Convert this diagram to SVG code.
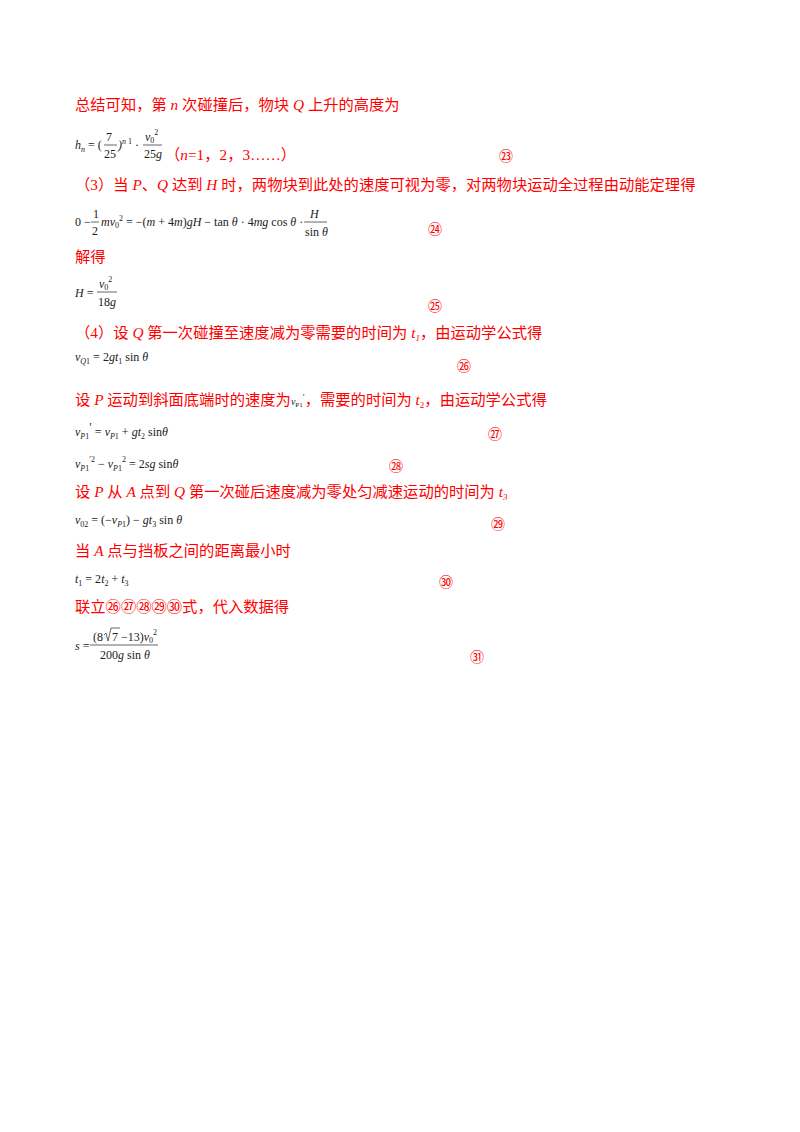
<svg xmlns="http://www.w3.org/2000/svg" width="800" height="1132" viewBox="0 0 800 1132">
<style>
.r{fill:#ff0000;font-family:"Liberation Serif","Noto Sans CJK SC",serif;font-size:15.3px}
.i{font-style:italic}
.m{fill:#222;font-family:"Liberation Serif",serif;font-size:12px}
.s{font-size:8px}
.c{fill:#ff0000;font-family:"Noto Sans CJK SC",sans-serif;font-size:14px}
.ln{stroke:#222;stroke-width:0.7}
</style>
<rect width="800" height="1132" fill="#fff"/>
<g id="text">
<text class="r" x="75" y="110">总结可知，第 <tspan class="i">n</tspan> 次碰撞后，物块 <tspan class="i">Q</tspan> 上升的高度为</text>
<text class="m" x="75" y="149"><tspan class="i">h</tspan><tspan class="s i" dy="3">n</tspan><tspan dy="-3"> = (</tspan></text>
<text class="m" x="106" y="141">7</text><line class="ln" x1="104" y1="145" x2="117" y2="145"/><text class="m" x="104" y="158">25</text>
<text class="m" x="118" y="149"><tspan class="i">)</tspan><tspan class="s" dy="-5"><tspan class="i">n</tspan> 1</tspan><tspan dy="5"> ·</tspan></text>
<text class="m" x="145" y="141"><tspan class="i">v</tspan><tspan class="s" dy="2">0</tspan><tspan class="s" dy="-8">2</tspan></text><line class="ln" x1="143" y1="145" x2="162" y2="145"/><text class="m" x="144" y="158">25<tspan class="i">g</tspan></text>
<text class="r" x="165" y="160">（<tspan class="i">n</tspan>=1，2，3……）</text>
<text class="c" x="499" y="161">㉓</text>
<text class="r" x="75" y="190">（3）当 <tspan class="i">P</tspan>、<tspan class="i">Q</tspan> 达到 <tspan class="i">H</tspan> 时，两物块到此处的速度可视为零，对两物块运动全过程由动能定理得</text>
<text class="m" x="75" y="226">0 −</text><text class="m" x="93" y="218">1</text><line class="ln" x1="91" y1="222" x2="99" y2="222"/><text class="m" x="92" y="235">2</text>
<text class="m" x="101" y="226"><tspan class="i">mv</tspan><tspan class="s" dy="2">0</tspan><tspan class="s" dy="-7">2</tspan><tspan dy="5"> = −(</tspan><tspan class="i">m</tspan> + 4<tspan class="i">m</tspan>)<tspan class="i">gH</tspan> − tan <tspan class="i">θ</tspan> · 4<tspan class="i">mg</tspan> cos <tspan class="i">θ</tspan> ·</text>
<text class="m i" x="310" y="218">H</text><line class="ln" x1="304" y1="222" x2="327" y2="222"/><text class="m" x="305" y="236">sin <tspan class="i">θ</tspan></text>
<text class="c" x="428" y="234">㉔</text>
<text class="r" x="75" y="262">解得</text>
<text class="m" x="75" y="297"><tspan class="i">H</tspan> =</text>
<text class="m" x="99" y="288"><tspan class="i">v</tspan><tspan class="s" dy="2">0</tspan><tspan class="s" dy="-8">2</tspan></text><line class="ln" x1="97" y1="292" x2="117" y2="292"/><text class="m" x="98" y="306">18<tspan class="i">g</tspan></text>
<text class="c" x="428" y="311">㉕</text>
<text class="r" x="75" y="338">（4）设 <tspan class="i">Q</tspan> 第一次碰撞至速度减为零需要的时间为 <tspan class="i">t</tspan><tspan class="i" font-size="9" dy="3">1</tspan><tspan dy="-3">，由运动学公式得</tspan></text>
<text class="m" x="75" y="361"><tspan class="i">v</tspan><tspan class="s i" dy="3">Q</tspan><tspan class="s">1</tspan><tspan dy="-3"> = 2</tspan><tspan class="i">gt</tspan><tspan class="s" dy="3">1</tspan><tspan dy="-3"> sin </tspan><tspan class="i">θ</tspan></text>
<text class="c" x="457" y="371">㉖</text>
<text class="r" x="75" y="405">设 <tspan class="i">P</tspan> 运动到斜面底端时的速度为<tspan class="i" font-size="10" fill="#222">v</tspan><tspan font-size="7" fill="#222" dy="2">P1</tspan><tspan font-size="9" fill="#222" dy="-7">′</tspan><tspan dy="5">，需要的时间为 </tspan><tspan class="i">t</tspan><tspan font-size="9" dy="3">2</tspan><tspan dy="-3">，由运动学公式得</tspan></text>
<text class="m" x="75" y="436"><tspan class="i">v</tspan><tspan class="s i" dy="3">P</tspan><tspan class="s">1</tspan><tspan dy="-8">′</tspan><tspan dy="5">  = </tspan><tspan class="i">v</tspan><tspan class="s i" dy="3">P</tspan><tspan class="s">1</tspan><tspan dy="-3"> + </tspan><tspan class="i">gt</tspan><tspan class="s" dy="3">2</tspan><tspan dy="-3">  sin</tspan><tspan class="i">θ</tspan></text>
<text class="c" x="488" y="439">㉗</text>
<text class="m" x="75" y="468"><tspan class="i">v</tspan><tspan class="s i" dy="3">P</tspan><tspan class="s">1</tspan><tspan class="s" dy="-9">′2</tspan><tspan dy="6">  − </tspan><tspan class="i">v</tspan><tspan class="s i" dy="3">P</tspan><tspan class="s">1</tspan><tspan class="s" dy="-9">2</tspan><tspan dy="6"> = 2</tspan><tspan class="i">sg</tspan><tspan>  sin</tspan><tspan class="i">θ</tspan></text>
<text class="c" x="389" y="471">㉘</text>
<text class="r" x="75" y="497">设 <tspan class="i">P</tspan> 从 <tspan class="i">A</tspan> 点到 <tspan class="i">Q</tspan> 第一次碰后速度减为零处匀减速运动的时间为 <tspan class="i">t</tspan><tspan font-size="9" class="i" dy="3">3</tspan></text>
<text class="m" x="75" y="524"><tspan class="i">v</tspan><tspan class="s" dy="3">02</tspan><tspan dy="-3"> = (−</tspan><tspan class="i">v</tspan><tspan class="s i" dy="3">P</tspan><tspan class="s">1</tspan><tspan dy="-3">) − </tspan><tspan class="i">gt</tspan><tspan class="s" dy="3">3</tspan><tspan dy="-3"> sin </tspan><tspan class="i">θ</tspan></text>
<text class="c" x="491" y="529">㉙</text>
<text class="r" x="75" y="556">当 <tspan class="i">A</tspan> 点与挡板之间的距离最小时</text>
<text class="m" x="75" y="583"><tspan class="i">t</tspan><tspan class="s" dy="3">1</tspan><tspan dy="-3"> = 2</tspan><tspan class="i">t</tspan><tspan class="s" dy="3">2</tspan><tspan dy="-3"> + </tspan><tspan class="i">t</tspan><tspan class="s" dy="3">3</tspan></text>
<text class="c" x="439" y="587">㉚</text>
<text class="r" x="75" y="612">联立㉖㉗㉘㉙㉚式，代入数据得</text>
<text class="m" x="75" y="650"><tspan class="i">s</tspan> =</text>
<text class="m" x="93" y="641">(8</text><path d="M104,635 L106,633 L108,641 L111,628 L120,628" fill="none" stroke="#222" stroke-width="0.7"/><text class="m" x="112" y="641">7 −13)<tspan class="i">v</tspan><tspan class="s" dy="2">0</tspan><tspan class="s" dy="-8">2</tspan></text>
<line class="ln" x1="90" y1="645" x2="158" y2="645"/>
<text class="m" x="100" y="659">200<tspan class="i">g</tspan> sin <tspan class="i">θ</tspan></text>
<text class="c" x="470" y="662">㉛</text>
</g>
</svg>
